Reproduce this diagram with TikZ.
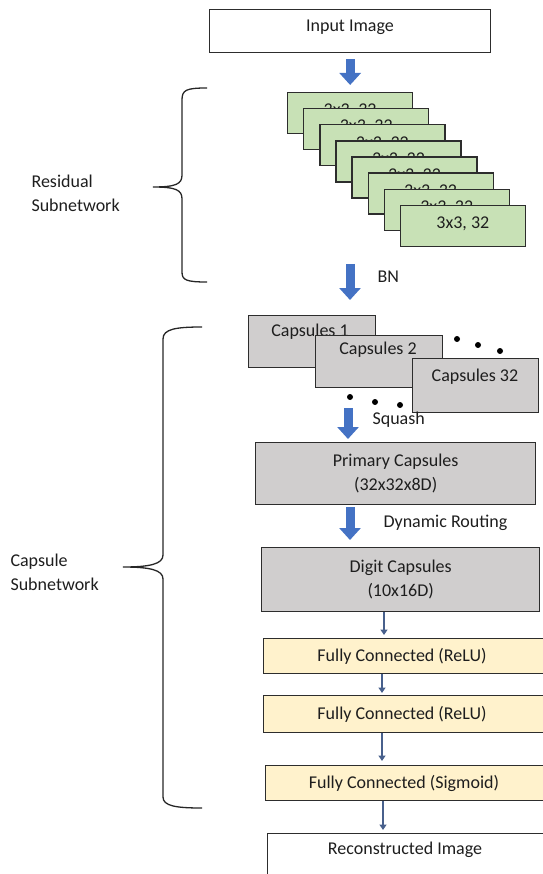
\documentclass[tikz,border=0pt]{standalone}
\usepackage{fontspec}
\setmainfont{Carlito}
\usetikzlibrary{arrows.meta,calc}
\definecolor{boxgreen}{RGB}{200,225,182}
\definecolor{boxgray}{RGB}{208,206,206}
\definecolor{boxyellow}{RGB}{255,242,204}
\definecolor{flowblue}{RGB}{68,114,196}
\definecolor{thinblue}{RGB}{72,96,140}
\definecolor{edgegray}{RGB}{45,45,45}
\definecolor{txt}{RGB}{30,30,30}

\begin{document}
\begin{tikzpicture}[x=1pt,y=-1pt,
  every node/.style={font=\fontsize{18}{24}\selectfont, text=txt},
  box/.style={draw=edgegray, line width=1.3pt, rectangle, inner sep=0pt, anchor=north west},
  greenbox/.style={box, fill=boxgreen, minimum width=125pt, minimum height=41pt},
  capbox/.style={box, fill=boxgray, minimum width=127pt, minimum height=52pt},
  fcbox/.style={box, fill=boxyellow},
  dotmark/.style={circle, fill=black, inner sep=0pt, minimum size=6pt},
  blockarrow/.style={flowblue, line width=9pt, -{Triangle[width=21pt,length=12pt]}},
  thinarrow/.style={thinblue, line width=2pt, -{Triangle[width=7pt,length=5.5pt]}},
  brace/.style={draw=black!85, line width=1.3pt},
  sidelabel/.style={anchor=west, align=left}
]
\useasboundingbox (0,0) rectangle (542,874);

% input image
\node[box, fill=white, minimum width=281pt, minimum height=43pt] (input) at (209,9) {};
\node (inputtxt) at (350,27) {Input Image};

% stack of residual convolution blocks
\foreach \k in {0,...,7} {
  \node[greenbox] (g\k) at ({287+16.1*\k},{92+16.1*\k}) {};
  \node (gt\k) at ($(g\k.center)+(0,-2)$) {3x3, 32};
}

% residual subnetwork brace
\draw[brace] (207,88) .. controls (186,88) and (182,90) .. (182,100) -- (182,175)
  .. controls (182,184) and (176,187) .. (153,187)
  .. controls (176,187) and (182,190) .. (182,199) -- (182,272)
  .. controls (182,280) and (186,282) .. (207,282);
\node[sidelabel] (reslbl) at (28,193) {Residual\\Subnetwork};

% capsule maps
\node[capbox] (c1) at (248,315) {};
\node (c1t) at (310,332) {Capsules 1};
\node[capbox] (c2) at (315,335) {};
\node (c2t) at (378,350) {Capsules 2};
\node[capbox, minimum width=126pt, minimum height=54pt] (c32) at (412,358) {};
\node (c32t) at (475,377) {Capsules 32};

\node[dotmark] (d1) at (457,339) {};
\node[dotmark] (d2) at (478,345) {};
\node[dotmark] (d3) at (500,351) {};
\node[dotmark] (d4) at (350,397) {};
\node[dotmark] (d5) at (375,402) {};
\node[dotmark] (d6) at (400,405) {};

% primary and digit capsules
\node[box, fill=boxgray, minimum width=280pt, minimum height=62pt, align=center] (prim) at (255,442) {Primary Capsules\\(32x32x8D)};
\node[box, fill=boxgray, minimum width=278pt, minimum height=64pt, align=center] (digit) at (261,547) {Digit Capsules\\(10x16D)};

% decoder layers
\node[fcbox, minimum width=285pt, minimum height=35pt] (fc1) at (263,638) {};
\node (fc1t) at (402,656) {Fully Connected (ReLU)};
\node[fcbox, minimum width=285pt, minimum height=37pt] (fc2) at (263,695) {};
\node (fc2t) at (402,714) {Fully Connected (ReLU)};
\node[fcbox, minimum width=283pt, minimum height=35pt] (fc3) at (265,765) {};
\node (fc3t) at (404,783) {Fully Connected (Sigmoid)};
\node[box, fill=white, minimum width=281pt, minimum height=50pt] (recon) at (267,833) {};
\node (recont) at (405,850) {Reconstructed Image};

% capsule subnetwork brace
\draw[brace] (202,327) .. controls (176,327) and (163,329) .. (163,339) -- (163,555)
  .. controls (163,564) and (150,567) .. (123,567)
  .. controls (150,567) and (163,570) .. (163,579) -- (163,797)
  .. controls (163,806) and (176,808) .. (202,808);
\node[sidelabel] (caplbl) at (7,572) {Capsule\\Subnetwork};

% block arrows
\coordinate (bnS) at (350,264);
\coordinate (bnE) at (350,300);
\coordinate (sqS) at (348,408);
\coordinate (sqE) at (348,439);
\coordinate (drS) at (350,507);
\coordinate (drE) at (350,540);
\draw[blockarrow, shorten <=6pt, shorten >=7pt] (input.south) -- (g0.north);
\draw[blockarrow] (bnS) -- (bnE);
\draw[blockarrow] (sqS) -- (sqE);
\draw[blockarrow] (drS) -- (drE);
\node[anchor=west] (bn) at (374,277) {BN};
\node[anchor=west] (sq) at (369,420) {Squash};
\node[anchor=west] (dr) at (380,523) {Dynamic Routing};

% thin arrows between decoder layers
\coordinate (ta) at (384,0);
\coordinate (tb) at (382,0);
\coordinate (tc) at (383,0);
\draw[thinarrow, shorten >=3pt] (digit.south -| ta) -- (fc1.north -| ta);
\draw[thinarrow, shorten >=2pt] (fc1.south -| tb) -- (fc2.north -| tb);
\draw[thinarrow, shorten >=4pt] (fc2.south -| tb) -- (fc3.north -| tb);
\draw[thinarrow, shorten >=3pt] (fc3.south -| tc) -- (recon.north -| tc);
\end{tikzpicture}
\end{document}
